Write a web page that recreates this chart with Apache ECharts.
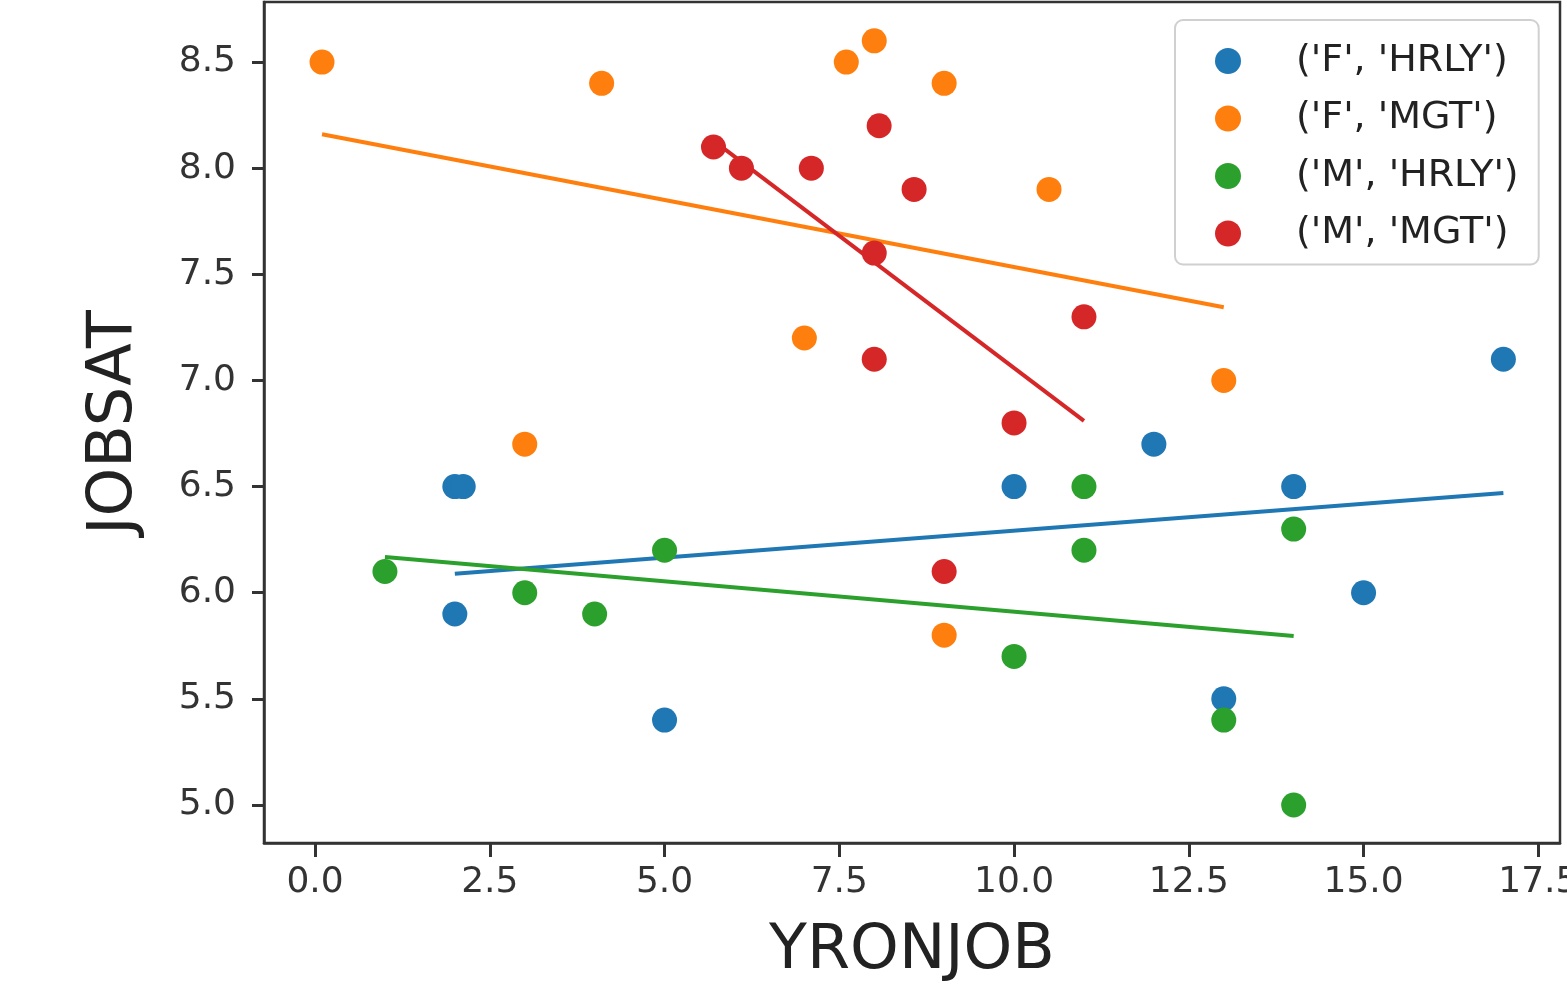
<!DOCTYPE html>
<html>
<head>
<meta charset="utf-8">
<title>JOBSAT vs YRONJOB</title>
<script src="https://cdn.jsdelivr.net/npm/echarts@6/dist/echarts.min.js"></script>
<style>
  html, body { margin: 0; padding: 0; background: #fff; }
  #main { width: 1567px; height: 988px; }
</style>
</head>
<body>
<div id="main"></div>
<script>
// group names (sex, job type)
var groupNames = ["('F', 'HRLY')", "('F', 'MGT')", "('M', 'HRLY')", "('M', 'MGT')"];
var groupColors = ['#1f77b4', '#ff7f0e', '#2ca02c', '#d62728'];

// scatter points [YRONJOB, JOBSAT]
var fHrly = [[2, 6.5], [2.12, 6.5], [2, 5.9], [5, 5.4], [10, 6.5], [12, 6.7], [13, 5.5], [14, 6.5], [15, 6.0], [17, 7.1]];
var fMgt = [[0.1, 8.5], [4.1, 8.4], [3, 6.7], [7.6, 8.5], [8, 8.6], [9, 8.4], [10.5, 7.9], [7, 7.2], [13, 7.0], [9, 5.8]];
var mHrly = [[1, 6.1], [3, 6.0], [4, 5.9], [5, 6.2], [10, 5.7], [11, 6.5], [11, 6.2], [13, 5.4], [14, 6.3], [14, 5.0]];
var mMgt = [[5.7, 8.1], [6.1, 8.0], [7.1, 8.0], [8.07, 8.2], [8.57, 7.9], [8, 7.6], [8, 7.1], [11, 7.3], [10, 6.8], [9, 6.1]];

// fitted line end points
var fHrlyFit = [[2, 6.09], [17, 6.47]];
var fMgtFit = [[0.1, 8.16], [13, 7.345]];
var mHrlyFit = [[1, 6.168], [14, 5.796]];
var mMgtFit = [[5.7, 8.13], [11, 6.81]];

// tick labels
var xTicks = [0, 2.5, 5, 7.5, 10, 12.5, 15, 17.5];
var yTicks = [5.0, 5.5, 6.0, 6.5, 7.0, 7.5, 8.0, 8.5];

var points = [fHrly, fMgt, mHrly, mMgt];
var fits = [fHrlyFit, fMgtFit, mHrlyFit, mMgtFit];

var font = 'DejaVu Sans';
var axisCol = '#333';

var series = [];
for (var i = 0; i < 4; i++) {
  series.push({
    name: groupNames[i],
    type: 'line',
    data: fits[i],
    showSymbol: false,
    symbol: 'none',
    lineStyle: { color: groupColors[i], width: 4 },
    itemStyle: { color: groupColors[i] },
    z: 2,
    silent: true
  });
}
for (var j = 0; j < 4; j++) {
  series.push({
    name: groupNames[j],
    type: 'scatter',
    data: points[j],
    symbol: 'circle',
    symbolSize: 25,
    itemStyle: { color: groupColors[j], opacity: 1 },
    z: 3
  });
}

var chart = echarts.init(document.getElementById('main'));
chart.setOption({
  animation: false,
  grid: {
    left: 264, right: 7, top: 2, bottom: 145,
    outerBoundsMode: 'none',
    show: true, borderColor: axisCol, borderWidth: 2.5
  },
  legend: {
    data: groupNames.map(function (n) { return { name: n, icon: 'circle' }; }),
    orient: 'vertical',
    left: 1175, top: 20,
    itemWidth: 26, itemHeight: 26,
    itemGap: 19.5,
    padding: [22, 20, 12, 40],
    backgroundColor: 'rgba(255,255,255,0.85)',
    borderColor: '#d0d0d0', borderWidth: 2, borderRadius: 8,
    textStyle: { fontFamily: font, fontSize: 38, color: '#222', lineHeight: 37, padding: [0, 0, 0, 50] }
  },
  xAxis: {
    type: 'value',
    min: -0.73, max: 17.81,
    name: 'YRONJOB', nameLocation: 'middle', nameGap: 78,
    nameTextStyle: { fontFamily: font, fontSize: 62, color: '#222' },
    splitLine: { show: false },
    axisLine: { show: true, onZero: false, lineStyle: { color: axisCol, width: 2.5 } },
    axisTick: { show: true, length: 14, customValues: xTicks, lineStyle: { color: axisCol, width: 3 } },
    axisLabel: {
      customValues: xTicks, margin: 22,
      fontFamily: font, fontSize: 36, color: '#333',
      formatter: function (v) { return v.toFixed(1); }
    }
  },
  yAxis: {
    type: 'value',
    min: 4.821, max: 8.783,
    name: 'JOBSAT', nameLocation: 'middle', nameGap: 118,
    nameTextStyle: { fontFamily: font, fontSize: 62, color: '#222' },
    splitLine: { show: false },
    axisLine: { show: true, onZero: false, lineStyle: { color: axisCol, width: 2.5 } },
    axisTick: { show: true, length: 12, customValues: yTicks, lineStyle: { color: axisCol, width: 3 } },
    axisLabel: {
      customValues: yTicks, margin: 28,
      fontFamily: font, fontSize: 36, color: '#333',
      formatter: function (v) { return v.toFixed(1); }
    }
  },
  series: series
});
</script>
</body>
</html>
